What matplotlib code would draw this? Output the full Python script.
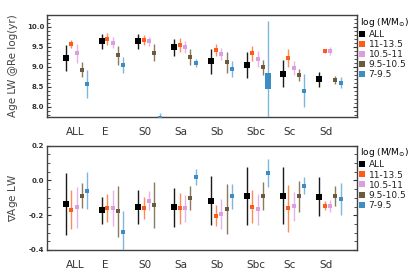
import numpy as np
import matplotlib
matplotlib.use("Agg")
import matplotlib.pyplot as plt
from matplotlib.ticker import MultipleLocator
from matplotlib.lines import Line2D

types = ['ALL', 'E', 'S0', 'Sa', 'Sb', 'Sbc', 'Sc', 'Sd']
bins = ['ALL', '11-13.5', '10.5-11', '9.5-10.5', '7-9.5']

# top panel: Age LW @Re (mean, half error)
age_all = [9.22, 9.63, 9.63, 9.48, 9.13, 9.04, 8.82, 8.68]
age_all_err = [0.33, 0.19, 0.18, 0.22, 0.31, 0.33, 0.34, 0.19]
age_m1 = [9.57, 9.70, 9.67, 9.54, 9.42, 9.33, 9.21, 9.39]
age_m1_err = [0.10, 0.15, 0.12, 0.17, 0.15, 0.18, 0.23, 0.06]
age_m2 = [9.33, 9.60, 9.63, 9.48, 9.32, 9.19, 8.96, 9.38]
age_m2_err = [0.23, 0.14, 0.12, 0.15, 0.15, 0.21, 0.18, 0.10]
age_m3 = [8.92, 9.28, 9.35, 9.23, 9.11, 8.98, 8.79, 8.67]
age_m3_err = [0.19, 0.24, 0.22, 0.20, 0.26, 0.18, 0.14, 0.10]
age_m4 = [8.57, 9.04, 7.72, 9.08, 8.95, 8.64, 8.40, 8.60]
age_m4_err = [0.35, 0.19, 0.11, 0.10, 0.20, 1.51, 0.41, 0.13]

# bottom panel: age gradient
grad_all = [-0.136, -0.171, -0.151, -0.155, -0.116, -0.091, -0.087, -0.093]
grad_all_err = [0.177, 0.077, 0.097, 0.111, 0.142, 0.168, 0.165, 0.113]
grad_m1 = [-0.169, -0.159, -0.159, -0.161, -0.203, -0.151, -0.161, -0.145]
grad_m1_err = [0.112, 0.079, 0.063, 0.088, 0.061, 0.094, 0.137, 0.024]
grad_m2 = [-0.155, -0.159, -0.116, -0.161, -0.194, -0.165, -0.149, -0.145]
grad_m2_err = [0.119, 0.102, 0.054, 0.077, 0.086, 0.089, 0.085, 0.034]
grad_m3 = [-0.087, -0.178, -0.141, -0.103, -0.165, -0.091, -0.091, -0.087]
grad_m3_err = [0.070, 0.148, 0.131, 0.070, 0.142, 0.081, 0.090, 0.058]
grad_m4 = [-0.058, -0.297, np.nan, 0.019, -0.091, 0.045, -0.029, -0.107]
grad_m4_err = [0.107, 0.123, np.nan, 0.046, 0.073, 0.081, 0.051, 0.090]

colors = ['#000000', '#ff5a1a', '#dc9ede', '#6b5a40', '#3c8dc5']
ecolors = ['#1a1a1a', '#ff8a55', '#e6b4e8', '#8a7a5e', '#7db7dd']

fig = plt.figure(figsize=(4.15, 2.74), dpi=100)
ax1 = fig.add_axes([0.113, 0.573, 0.747, 0.372])
ax2 = fig.add_axes([0.113, 0.088, 0.747, 0.380])

x = np.arange(len(types))
tall = [(-1, -3), (1, -3), (1, 3), (-1, 3), (-1, -3)]


def panel(ax, means, errs, ylabel):
    for k in range(5):
        xs = x + k * 0.147
        ms = 4.5 if k == 0 else 3.5
        ax.errorbar(xs, means[k], yerr=errs[k], fmt='s', color=colors[k],
                    ecolor=ecolors[k], ms=ms, elinewidth=1, capsize=2,
                    capthick=1, mew=0, zorder=3)
    ax.set_xlim(-0.525, 8.04)
    ax.set_xticks(x)
    ax.set_xticklabels(types, ha='left', fontsize=7.5, color='#333333')
    ax.tick_params(axis='x', length=0, pad=7)
    ax.tick_params(axis='y', which='both', direction='in', right=True,
                   labelsize=5, colors='#333333', pad=2)
    ax.tick_params(axis='y', which='major', length=3)
    ax.tick_params(axis='y', which='minor', length=2)
    for t in ax.get_yticklabels():
        t.set_fontweight('bold')
    for s in ax.spines.values():
        s.set_color('#404040')
        s.set_linewidth(1)
    ax.set_ylabel(ylabel, fontsize=7.5, color='#444444', labelpad=6)
    handles = [Line2D([], [], marker='s', ls='none', color=c, ms=4.5, mew=0)
               for c in colors]
    leg = ax.legend(handles, bins, title=r'log (M/M$_{\odot}$)', loc='upper left',
                    bbox_to_anchor=(1.0, 1.02), frameon=False, fontsize=6.5,
                    title_fontsize=6.5, handlelength=0.6, handletextpad=0.4,
                    labelspacing=0.12, borderaxespad=0.2, borderpad=0.1)
    leg._legend_box.align = 'left'
    for t in leg.get_texts():
        t.set_color('#222222')


panel(ax1, [age_all, age_m1, age_m2, age_m3, age_m4],
      [age_all_err, age_m1_err, age_m2_err, age_m3_err, age_m4_err],
      'Age LW @Re log(yr)')
ax1.set_ylim(7.74, 10.29)
ax1.yaxis.set_major_locator(MultipleLocator(0.5))
ax1.yaxis.set_minor_locator(MultipleLocator(0.1))
ax1.set_yticks([8.0, 8.5, 9.0, 9.5, 10.0])
ax1.set_yticklabels(['8.0', '8.5', '9.0', '9.5', '10.0'], fontweight='bold')
# widest error on the Sbc blue point gets a tall box
ax1.plot(x[5] + 4 * 0.147, age_m4[5], marker=tall, ms=12, color=colors[4],
         mew=0, ls='none', zorder=4)

panel(ax2, [grad_all, grad_m1, grad_m2, grad_m3, grad_m4],
      [grad_all_err, grad_m1_err, grad_m2_err, grad_m3_err, grad_m4_err],
      r'$\nabla$Age LW')
ax2.set_ylim(-0.4, 0.2)
ax2.set_yticks([-0.4, -0.2, 0.0, 0.2])
ax2.set_yticklabels(['-0.4', '-0.2', '0.0', '0.2'], fontweight='bold')
ax2.yaxis.set_minor_locator(MultipleLocator(0.05))

fig.savefig('out.png', dpi=100)
